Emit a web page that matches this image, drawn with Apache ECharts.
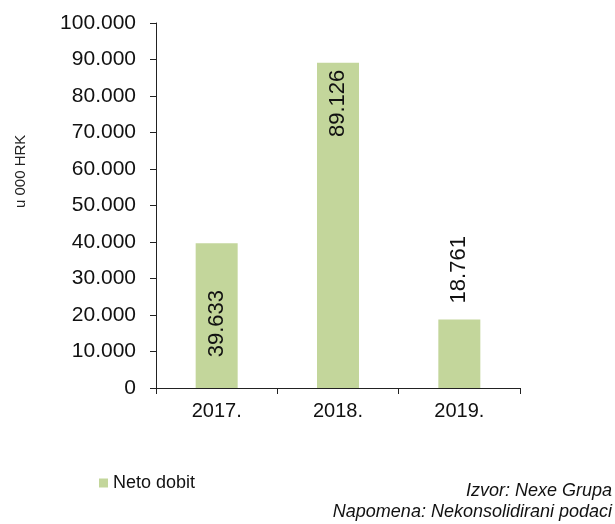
<!DOCTYPE html>
<html>
<head>
<meta charset="utf-8">
<title>Neto dobit</title>
<script src="https://cdn.jsdelivr.net/npm/echarts@6/dist/echarts.min.js"></script>
<style>
    html, body { margin: 0; padding: 0; background: #fff; }
    #chart { width: 615px; height: 524px; }
</style>
</head>
<body>
<div id="chart"></div>
<script type="text/javascript">
    var years = ['2017.', '2018.', '2019.'];
    var netoDobit = [39633, 89126, 18761];
    // label shift up along the bar, per year (px)
    var labelShift = [-8, 122, 84];

    function fmt(v) {
        return String(v).replace(/\B(?=(\d{3})+(?!\d))/g, '.');
    }

    var myChart = echarts.init(document.getElementById('chart'));

    var option = {
        animation: false,
        textStyle: { fontFamily: 'Liberation Sans, Arial, sans-serif' },
        grid: { left: 156, right: 95, top: 23, bottom: 136 },
        xAxis: {
            type: 'category',
            data: years,
            axisLine: { lineStyle: { color: '#222', width: 1 } },
            axisTick: { show: true, length: 6, lineStyle: { color: '#222' } },
            axisLabel: { color: '#111', fontSize: 20, margin: 13 }
        },
        yAxis: {
            type: 'value',
            min: 0,
            max: 100000,
            interval: 10000,
            axisLine: { show: true, lineStyle: { color: '#222', width: 1 } },
            axisTick: { show: true, length: 6, lineStyle: { color: '#222' } },
            splitLine: { show: false },
            axisLabel: {
                color: '#111',
                fontSize: 21,
                margin: 20,
                formatter: function (v) { return fmt(v); }
            }
        },
        legend: {
            left: 94,
            top: 469,
            itemWidth: 9,
            itemHeight: 9,
            itemGap: 6,
            icon: 'rect',
            textStyle: { color: '#111', fontSize: 18 },
            data: ['Neto dobit']
        },
        graphic: [
            {
                type: 'text',
                x: 13,
                y: 208,
                rotation: Math.PI / 2,
                style: {
                    text: 'u 000 HRK',
                    fill: '#222',
                    font: '15px Liberation Sans, Arial, sans-serif'
                }
            },
            {
                type: 'text',
                right: 3,
                top: 482,
                style: {
                    text: 'Izvor: Nexe Grupa',
                    fill: '#111',
                    font: 'italic 18px Liberation Sans, Arial, sans-serif'
                }
            },
            {
                type: 'text',
                right: 3,
                top: 503,
                style: {
                    text: 'Napomena: Nekonsolidirani podaci',
                    fill: '#111',
                    font: 'italic 18px Liberation Sans, Arial, sans-serif'
                }
            }
        ],
        series: [
            {
                name: 'Neto dobit',
                type: 'bar',
                barWidth: 42,
                itemStyle: { color: '#c3d69b' },
                data: netoDobit.map(function (v, i) {
                    return {
                        value: v,
                        label: {
                            show: true,
                            position: 'inside',
                            rotate: 90,
                            offset: [labelShift[i], 0],
                            color: '#111',
                            fontSize: 22,
                            formatter: function (p) { return fmt(p.value); }
                        }
                    };
                })
            }
        ]
    };

    myChart.setOption(option);
</script>
</body>
</html>
